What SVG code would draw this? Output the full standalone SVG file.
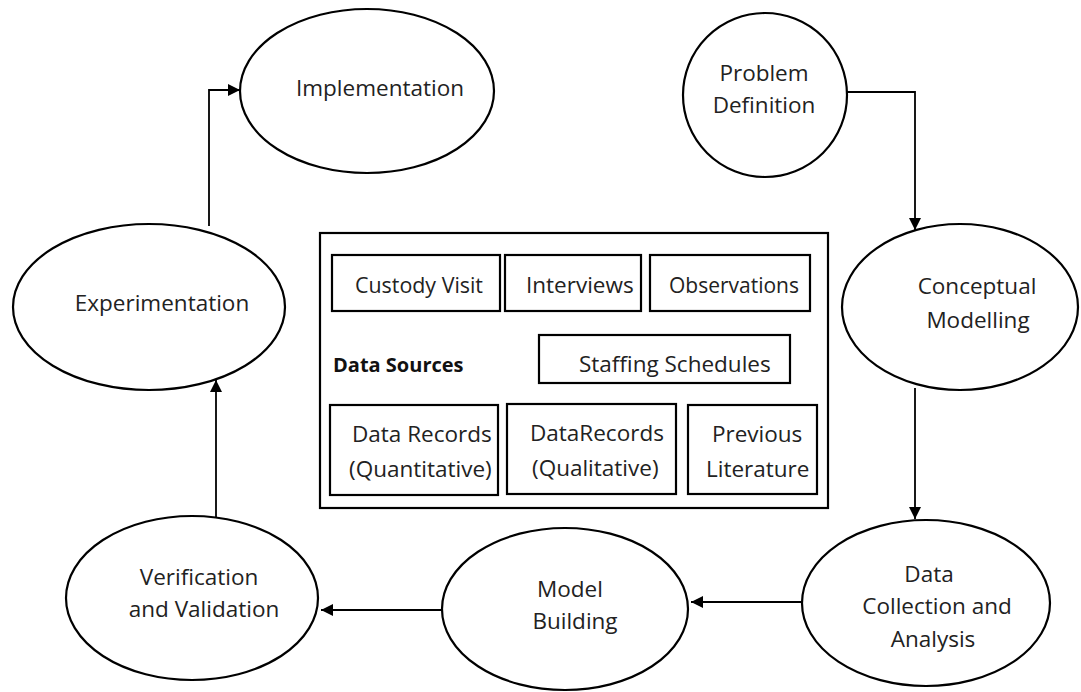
<svg xmlns="http://www.w3.org/2000/svg" width="1081" height="692" viewBox="0 0 1081 692">
<style>
.n{fill:#fff;stroke:#000;stroke-width:2.2}
.b{fill:#fff;stroke:#000;stroke-width:2.2}
.t{font-family:"Open Sans","Noto Sans",sans-serif;font-size:22.5px;fill:#222}
.tb{font-family:"Open Sans","Noto Sans",sans-serif;font-size:20px;font-weight:bold;fill:#111}
.c{fill:none;stroke:#000;stroke-width:1.8}
.m{text-anchor:middle}
</style>
<defs>
<marker id="ah" markerUnits="userSpaceOnUse" markerWidth="13" markerHeight="13" refX="12" refY="6" orient="auto">
<path d="M0,0 L12,6 L0,12 z" fill="#000"/>
</marker>
</defs>
<rect width="1081" height="692" fill="#fff"/>
<g id="connectors">
<path class="c" d="M846,92 H915 V230" marker-end="url(#ah)"/>
<path class="c" d="M915,388 V519" marker-end="url(#ah)"/>
<path class="c" d="M802,602 H691" marker-end="url(#ah)"/>
<path class="c" d="M442,610 H321" marker-end="url(#ah)"/>
<path class="c" d="M216,517 V380" marker-end="url(#ah)"/>
<path class="c" d="M209,226 V90 H240" marker-end="url(#ah)"/>
</g>
<g id="problem-definition">
<ellipse class="n" cx="765" cy="95" rx="82" ry="82"/>
<text class="t m" x="764" y="81">Problem</text>
<text class="t m" x="764" y="113">Definition</text>
</g>
<g id="implementation">
<ellipse class="n" cx="367" cy="91" rx="127" ry="82"/>
<text class="t m" x="380" y="96">Implementation</text>
</g>
<g id="experimentation">
<ellipse class="n" cx="149" cy="307" rx="136" ry="83"/>
<text class="t m" x="162" y="311">Experimentation</text>
</g>
<g id="conceptual-modelling">
<ellipse class="n" cx="960" cy="307" rx="118" ry="83"/>
<text class="t m" x="977" y="294">Conceptual</text>
<text class="t m" x="978" y="328">Modelling</text>
</g>
<g id="data-collection">
<ellipse class="n" cx="926" cy="603" rx="124" ry="83"/>
<text class="t m" x="929" y="582">Data</text>
<text class="t m" x="937" y="614">Collection and</text>
<text class="t m" x="933" y="647">Analysis</text>
</g>
<g id="model-building">
<ellipse class="n" cx="565" cy="609" rx="123" ry="81"/>
<text class="t m" x="570" y="597">Model</text>
<text class="t m" x="575" y="629">Building</text>
</g>
<g id="verification-validation">
<ellipse class="n" cx="192" cy="598" rx="126" ry="82"/>
<text class="t m" x="199" y="585">Verification</text>
<text class="t m" x="204" y="617">and Validation</text>
</g>
<g id="data-sources">
<rect class="b" x="320" y="233" width="508" height="275"/>
<text class="tb" x="333" y="372">Data Sources</text>
<g id="custody-visit">
<rect class="b" x="332" y="255" width="168" height="56"/>
<text class="t" x="355" y="293" textLength="128" lengthAdjust="spacingAndGlyphs">Custody Visit</text>
</g>
<g id="interviews">
<rect class="b" x="505" y="255" width="136" height="56"/>
<text class="t" x="526" y="293">Interviews</text>
</g>
<g id="observations">
<rect class="b" x="650" y="255" width="160" height="56"/>
<text class="t" x="669" y="293" textLength="130" lengthAdjust="spacingAndGlyphs">Observations</text>
</g>
<g id="staffing-schedules">
<rect class="b" x="539" y="335" width="251" height="48"/>
<text class="t" x="579" y="372">Staffing Schedules</text>
</g>
<g id="data-records-quant">
<rect class="b" x="330" y="405" width="168" height="90"/>
<text class="t" x="352" y="442">Data Records</text>
<text class="t" x="349" y="477">(Quantitative)</text>
</g>
<g id="data-records-qual">
<rect class="b" x="507" y="404" width="169" height="90"/>
<text class="t" x="530" y="441">DataRecords</text>
<text class="t" x="532" y="476">(Qualitative)</text>
</g>
<g id="previous-literature">
<rect class="b" x="688" y="405" width="129" height="89"/>
<text class="t" x="712" y="442">Previous</text>
<text class="t" x="706" y="477">Literature</text>
</g>
</g>
</svg>
